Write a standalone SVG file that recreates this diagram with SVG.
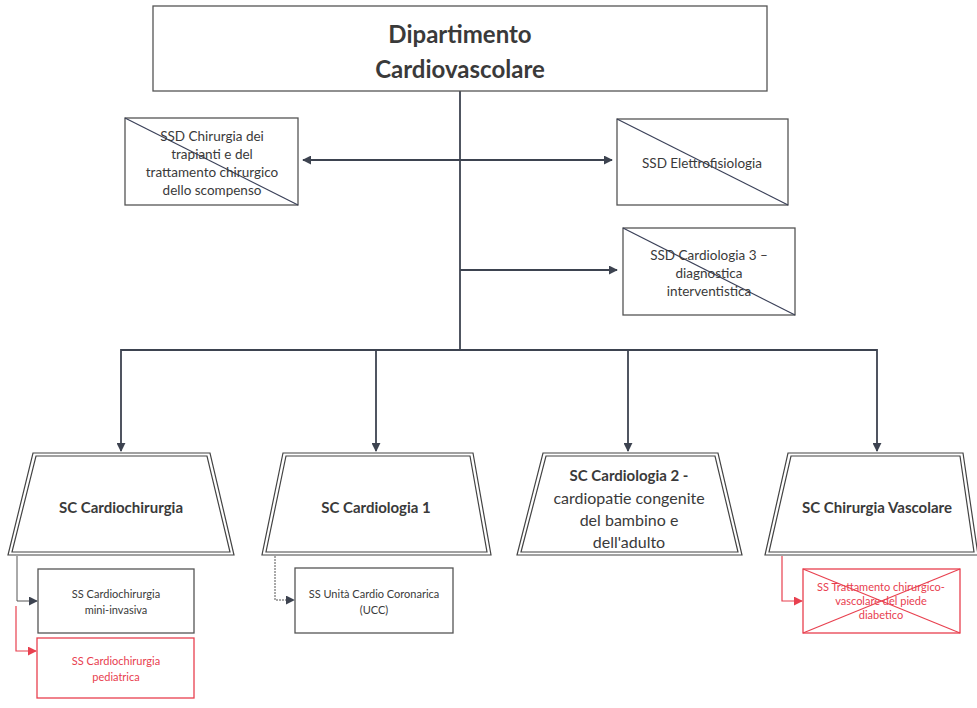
<svg xmlns="http://www.w3.org/2000/svg" width="977" height="708" viewBox="0 0 977 708">
<defs>
<marker id="ah" viewBox="0 0 10 10" refX="9" refY="5" markerWidth="9" markerHeight="9" markerUnits="userSpaceOnUse" orient="auto-start-reverse"><path d="M0,0 L10,5 L0,10 z" fill="#3d4350"/></marker>
<marker id="ahr" viewBox="0 0 10 10" refX="9" refY="5" markerWidth="9" markerHeight="9" markerUnits="userSpaceOnUse" orient="auto"><path d="M0,0 L10,5 L0,10 z" fill="#e8404f"/></marker>
</defs>
<style>
text{font-family:Lato,"Open Sans","Liberation Sans",sans-serif;fill:#3a3a3a;text-anchor:middle}
.box{fill:#fff;stroke:#555;stroke-width:1.3}
.rbox{fill:#fff;stroke:#e8404f;stroke-width:1.3}
.diag{stroke:#3a4058;stroke-width:1.2}
.rdiag{stroke:#e8404f;stroke-width:1.2}
.trap{fill:#fff;stroke:#444;stroke-width:1.2}
.trapi{fill:none;stroke:#444;stroke-width:1.2}
.conn{fill:none;stroke:#3d4350;stroke-width:1.8}
.thin{fill:none;stroke:#555;stroke-width:1}
.rconn{fill:none;stroke:#e8404f;stroke-width:1.2}
.h1{font-size:24px;font-weight:bold}
.ssd{font-size:13.5px}
.sc{font-size:15px;font-weight:bold}
.sc2{font-size:16px}
.ss{font-size:11px}
.red{fill:#e8404f}
</style>
<rect width="977" height="708" fill="#fff"/>
<g id="connectors">
<line class="conn" x1="460" y1="91" x2="460" y2="350"/>
<line class="conn" x1="303" y1="160" x2="612" y2="160" marker-start="url(#ah)" marker-end="url(#ah)"/>
<line class="conn" x1="460" y1="270" x2="617" y2="270" marker-end="url(#ah)"/>
<polyline class="conn" points="121,451 121,350 877,350 877,451" marker-start="url(#ah)" marker-end="url(#ah)"/>
<line class="conn" x1="376" y1="350" x2="376" y2="451" marker-end="url(#ah)"/>
<line class="conn" x1="628" y1="350" x2="628" y2="451" marker-end="url(#ah)"/>
<polyline class="thin" points="17,556 17,601 37,601" marker-end="url(#ah)"/>
<polyline class="rconn" points="16,606 16,651 36,651" marker-end="url(#ahr)"/>
<polyline class="thin" points="275,556 275,600 294,600" stroke-dasharray="2,1" marker-end="url(#ah)"/>
<polyline class="rconn" points="782,556 782,601 802,601" marker-end="url(#ahr)"/>
</g>
<g id="dipartimento">
<rect class="box" x="153" y="6" width="614" height="85"/>
<text class="h1" x="460" y="43">Dipartimento</text>
<text class="h1" x="460" y="78">Cardiovascolare</text>
</g>
<g id="ssd-chirurgia-trapianti">
<rect class="box" x="125" y="118" width="173" height="87"/>
<line class="diag" x1="125" y1="118" x2="298" y2="205"/>
<text class="ssd" x="212" y="141">SSD Chirurgia dei</text>
<text class="ssd" x="212" y="159">trapianti e del</text>
<text class="ssd" x="212" y="177">trattamento chirurgico</text>
<text class="ssd" x="212" y="195">dello scompenso</text>
</g>
<g id="ssd-elettrofisiologia">
<rect class="box" x="617" y="119" width="171" height="86"/>
<line class="diag" x1="617" y1="119" x2="788" y2="205"/>
<text class="ssd" x="702" y="168">SSD Elettrofisiologia</text>
</g>
<g id="ssd-cardiologia-3">
<rect class="box" x="623" y="228" width="172" height="87"/>
<line class="diag" x1="623" y1="228" x2="795" y2="315"/>
<text class="ssd" x="709" y="260">SSD Cardiologia 3 –</text>
<text class="ssd" x="709" y="278">diagnostica</text>
<text class="ssd" x="709" y="296">interventistica</text>
</g>
<g id="sc-cardiochirurgia">
<polygon class="trap" points="33,453 210,453 234,555 8,555"/>
<polygon class="trapi" points="36,456 207,456 230,552 12,552"/>
<text class="sc" x="121" y="513">SC Cardiochirurgia</text>
</g>
<g id="sc-cardiologia-1">
<polygon class="trap" points="283,453 473,453 491,555 262,555"/>
<polygon class="trapi" points="286,456 470,456 487,552 266,552"/>
<text class="sc" x="376" y="513">SC Cardiologia 1</text>
</g>
<g id="sc-cardiologia-2">
<polygon class="trap" points="543,453 718,453 742,555 517,555"/>
<polygon class="trapi" points="546,456 715,456 738,552 521,552"/>
<text class="sc" x="629" y="481">SC Cardiologia 2 -</text>
<text class="sc2" x="629" y="504">cardiopatie congenite</text>
<text class="sc2" x="629" y="526">del bambino e</text>
<text class="sc2" x="629" y="548">dell'adulto</text>
</g>
<g id="sc-chirurgia-vascolare">
<polygon class="trap" points="788,453 963,453 978,555 765,555"/>
<polygon class="trapi" points="791,456 960,456 974,552 769,552"/>
<text class="sc" x="877" y="513">SC Chirurgia Vascolare</text>
</g>
<g id="ss-mini-invasiva">
<rect class="box" x="38" y="569" width="156" height="64"/>
<text class="ss" x="116" y="598">SS Cardiochirurgia</text>
<text class="ss" x="116" y="614">mini-invasiva</text>
</g>
<g id="ss-pediatrica">
<rect class="rbox" x="37" y="638" width="157" height="60"/>
<text class="ss red" x="116" y="665">SS Cardiochirurgia</text>
<text class="ss red" x="116" y="681">pediatrica</text>
</g>
<g id="ss-ucc">
<rect class="box" x="295" y="568" width="158" height="65"/>
<text class="ss" x="374" y="598">SS Unità Cardio Coronarica</text>
<text class="ss" x="374" y="614">(UCC)</text>
</g>
<g id="ss-piede-diabetico">
<rect class="rbox" x="803" y="569" width="157" height="64"/>
<line class="rdiag" x1="803" y1="569" x2="960" y2="633"/>
<line class="rdiag" x1="960" y1="569" x2="803" y2="633"/>
<text class="ss red" x="881" y="591">SS Trattamento chirurgico-</text>
<text class="ss red" x="881" y="605">vascolare del piede</text>
<text class="ss red" x="881" y="619">diabetico</text>
</g>
</svg>
